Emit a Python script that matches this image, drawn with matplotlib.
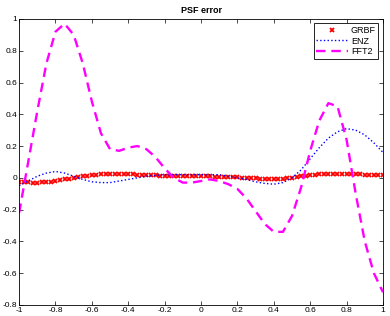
import matplotlib
matplotlib.use("Agg")
import matplotlib.pyplot as plt
import numpy as np

plt.rcParams["font.family"] = ["Liberation Sans", "DejaVu Sans"]
plt.rcParams["axes.unicode_minus"] = False

# coarse grid used by ENZ and FFT2 (step 0.05)
x_coarse = np.linspace(-1, 1, 41)
fft2 = [-0.22, 0.10, 0.42, 0.72, 0.92, 0.97, 0.90, 0.72, 0.48, 0.28,
        0.18, 0.17, 0.19, 0.20, 0.18, 0.13, 0.06, 0.00, -0.03, -0.03,
        -0.02, -0.01, -0.02, -0.04, -0.07, -0.13, -0.21, -0.29, -0.34, -0.34,
        -0.24, -0.06, 0.17, 0.36, 0.47, 0.45, 0.24, -0.10, -0.40, -0.60,
        -0.72]
enz = [-0.05, -0.02, 0.01, 0.03, 0.04, 0.03, 0.01, -0.01, -0.025, -0.03,
       -0.03, -0.02, -0.01, 0.00, 0.01, 0.015, 0.02, 0.02, 0.02, 0.02,
       0.02, 0.02, 0.02, 0.01, 0.00, -0.01, -0.025, -0.035, -0.04, -0.03,
       0.00, 0.05, 0.12, 0.19, 0.25, 0.29, 0.31, 0.30, 0.27, 0.22,
       0.16]

# fine grid for GRBF markers (step 0.025)
x_fine = np.linspace(-1, 1, 81)
grbf = [-0.025, -0.027, -0.029, -0.030, -0.030, -0.029, -0.027, -0.024, -0.020, -0.015,
        -0.010, -0.005, 0.000, 0.005, 0.010, 0.014, 0.018, 0.021, 0.023, 0.024,
        0.025, 0.025, 0.025, 0.024, 0.023, 0.022, 0.020, 0.019, 0.018, 0.016,
        0.015, 0.014, 0.013, 0.012, 0.012, 0.011, 0.011, 0.010, 0.010, 0.010,
        0.010, 0.009, 0.009, 0.008, 0.007, 0.006, 0.005, 0.004, 0.003, 0.001,
        0.000, -0.002, -0.004, -0.006, -0.007, -0.008, -0.008, -0.007, -0.005, -0.002,
        0.002, 0.006, 0.010, 0.014, 0.017, 0.020, 0.022, 0.024, 0.025, 0.026,
        0.026, 0.026, 0.025, 0.024, 0.023, 0.022, 0.020, 0.019, 0.018, 0.016,
        0.015]

fig = plt.figure(figsize=(3.9, 3.16), dpi=100)
ax = fig.add_axes([0.049, 0.035, 0.933, 0.905])

ax.plot(x_fine, grbf, linestyle="none", marker="x", color="red",
        markersize=3, markeredgewidth=1.3, label="GRBF")
ax.plot(x_coarse, enz, linestyle=":", color="blue", linewidth=1.0, label="ENZ")
ax.plot(x_coarse, fft2, linestyle=(0, (4, 2.5)), color="magenta", linewidth=1.7, label="FFT2")

ax.set_xlim(-1, 1)
ax.set_ylim(-0.8, 1)
ax.set_xticks(np.arange(-1, 1.01, 0.2))
ax.set_yticks(np.arange(-0.8, 1.01, 0.2))
ax.set_xticklabels(["-1", "-0.8", "-0.6", "-0.4", "-0.2", "0", "0.2", "0.4", "0.6", "0.8", "1"])
ax.set_yticklabels(["-0.8", "-0.6", "-0.4", "-0.2", "0", "0.2", "0.4", "0.6", "0.8", "1"])
ax.tick_params(direction="in", top=True, right=True, labelsize=6, length=3, width=0.5, pad=1.5)
for s in ax.spines.values():
    s.set_linewidth(0.6)

ax.set_title("PSF error", fontsize=6.5, fontweight="bold", pad=4)
leg = ax.legend(loc="upper right", fontsize=6.5, fancybox=False, framealpha=1,
                edgecolor="black", handlelength=3.5, borderpad=0.3,
                labelspacing=0.15, handletextpad=0.3, borderaxespad=0.5)
leg.get_frame().set_linewidth(0.6)

fig.savefig("out.png", dpi=100)
